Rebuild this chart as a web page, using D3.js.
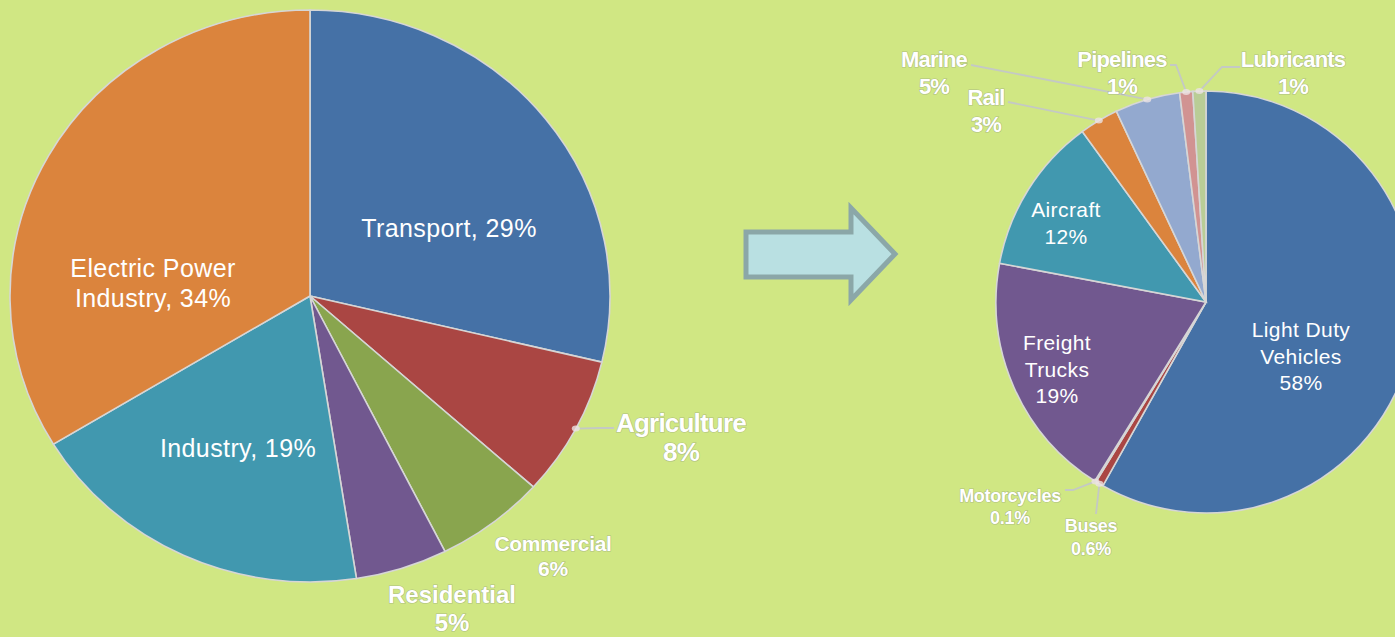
<!DOCTYPE html>
<html>
<head>
<meta charset="utf-8">
<script src="https://cdn.jsdelivr.net/npm/d3@7"></script>
<style>
  html, body { margin: 0; padding: 0; background: #d0e783; }
  svg { display: block; font-family: "Liberation Sans", Arial, sans-serif; }
</style>
</head>
<body>
<div id="chart"></div>
<script>
// left pie : oil use by sector
var sectorNames  = ["Transport", "Agriculture", "Commercial", "Residential", "Industry", "Electric Power Industry"];
var sectorValues = [29, 8, 6, 5, 19, 34];
var sectorColors = ["#4571a6", "#aa4643", "#89a54e", "#71588f", "#4198af", "#db843d"];

// right pie : transport split
var modeNames  = ["Light Duty Vehicles", "Buses", "Motorcycles", "Freight Trucks", "Aircraft", "Rail", "Marine", "Pipelines", "Lubricants"];
var modeValues = [58, 0.6, 0.1, 19, 12, 3, 5, 1, 1];
var modeColors = ["#4571a6", "#aa4643", "#89a54e", "#71588f", "#4198af", "#db843d", "#93a9cf", "#d19392", "#b9cd96"];

var w = 1395, h = 637;

var svg = d3.select("#chart").append("svg")
  .attr("width", w)
  .attr("height", h);

svg.append("rect").attr("width", w).attr("height", h).attr("fill", "#d0e783");

var pie = d3.pie().sort(null).value(function(d) { return d; });

// draws one (slightly elliptical) pie, returns a helper to get points on the rim
function drawPie(values, colors, cx, cy, rx, ry) {
  var arc = d3.arc().innerRadius(0).outerRadius(ry);
  var g = svg.append("g")
    .attr("transform", "translate(" + cx + "," + cy + ") scale(" + (rx / ry) + ",1)");
  var arcs = pie(values);
  g.selectAll("path")
    .data(arcs)
    .enter()
    .append("path")
    .attr("d", arc)
    .attr("fill", function(d, i) { return colors[i]; })
    .attr("stroke", "#d6d6d6")
    .attr("stroke-width", 1.6)
    .attr("vector-effect", "non-scaling-stroke");
  return function(i, k) {
    var a = (arcs[i].startAngle + arcs[i].endAngle) / 2;
    return [cx + rx * k * Math.sin(a), cy - ry * k * Math.cos(a)];
  };
}

var leftRim  = drawPie(sectorValues, sectorColors, 310, 296, 300, 286);
var rightRim = drawPie(modeValues, modeColors, 1206, 302, 210, 211);

// label layout (first baseline, line gap, size)
var leftLabels = [
  { lines: ["Transport, 29%"], x: 449, y: 237, size: 25, inside: true },
  { lines: ["Agriculture", "8%"], x: 681, y: 432, gap: 29, size: 26, ls: -0.8, lead: [[600, 428], [614, 428]] },
  { lines: ["Commercial", "6%"], x: 553, y: 551, gap: 25, size: 21, ls: -0.3 },
  { lines: ["Residential", "5%"], x: 452, y: 603, gap: 28, size: 24, ls: 0 },
  { lines: ["Industry, 19%"], x: 238, y: 457, size: 25, inside: true },
  { lines: ["Electric Power", "Industry, 34%"], x: 153, y: 277, gap: 30, size: 25, inside: true }
];

var rightLabels = [
  { lines: ["Light Duty", "Vehicles", "58%"], x: 1301, y: 337, gap: 26.5, size: 21, inside: true },
  { lines: ["Buses", "0.6%"], x: 1091, y: 532, gap: 23, size: 18, ls: -0.3, lead: [[1096, 514]] },
  { lines: ["Motorcycles", "0.1%"], x: 1010, y: 502, gap: 22, size: 18, ls: -0.3, lead: [[1073, 490], [1065, 490]] },
  { lines: ["Freight", "Trucks", "19%"], x: 1057, y: 350, gap: 26.5, size: 21, inside: true },
  { lines: ["Aircraft", "12%"], x: 1066, y: 217, gap: 26.5, size: 21, inside: true },
  { lines: ["Rail", "3%"], x: 986, y: 105, gap: 27, size: 22, ls: -0.8, lead: [[1008, 102]] },
  { lines: ["Marine", "5%"], x: 934, y: 67, gap: 27, size: 22, ls: -0.8, lead: [[971, 65]] },
  { lines: ["Pipelines", "1%"], x: 1122, y: 67, gap: 27, size: 22, ls: -0.8, lead: [[1176, 65], [1170, 65]] },
  { lines: ["Lubricants", "1%"], x: 1293, y: 67, gap: 27, size: 22, ls: -0.8, lead: [[1222, 67], [1240, 67]] }
];

function drawLabels(labels, rim) {
  labels.forEach(function(L, i) {
    if (L.lead) {
      var p0 = rim(i, 1.0);
      var pts = [p0].concat(L.lead);
      svg.append("path")
        .attr("d", d3.line()(pts))
        .attr("fill", "none")
        .attr("stroke", "#c4c9c4")
        .attr("stroke-width", 1.8);
      svg.append("ellipse")
        .attr("cx", p0[0]).attr("cy", p0[1])
        .attr("rx", 4).attr("ry", 3)
        .attr("fill", "#ece4e4").attr("opacity", 0.8);
    }
    var t = svg.append("text")
      .attr("text-anchor", "middle")
      .attr("fill", "#fff")
      .style("font-size", L.size + "px");
    if (L.inside) {
      t.style("letter-spacing", "0.4px");
    } else {
      t.style("font-weight", "bold")
        .style("letter-spacing", L.ls + "px")
        .attr("stroke", "rgba(140,150,130,0.55)")
        .attr("stroke-width", 1.2)
        .style("paint-order", "stroke");
    }
    L.lines.forEach(function(s, j) {
      t.append("tspan")
        .attr("x", L.x)
        .attr("y", L.y + j * (L.gap || 0))
        .text(s);
    });
  });
}

drawLabels(leftLabels, leftRim);
drawLabels(rightLabels, rightRim);

// arrow between the two pies
var arrowPts = [[746, 232], [851, 232], [851, 208], [895, 254], [851, 300], [851, 277], [746, 277]];
svg.append("path")
  .attr("d", d3.line()(arrowPts) + "Z")
  .attr("fill", "#b9e0e2")
  .attr("stroke", "#8ba7a8")
  .attr("stroke-width", 5)
  .attr("stroke-linejoin", "miter");
</script>
</body>
</html>
